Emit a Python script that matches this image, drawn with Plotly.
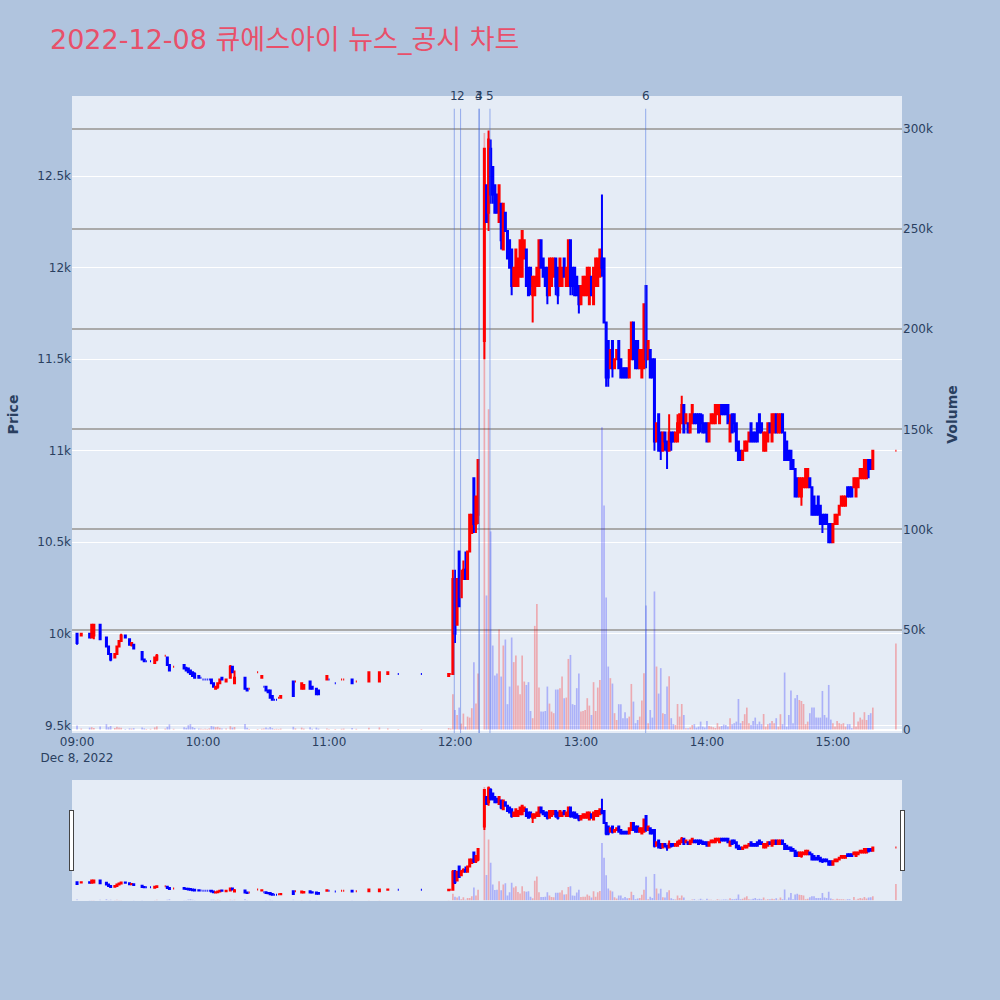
import pandas as pd
import plotly.graph_objects as go

# ---- minute offsets from 09:00 (only minutes with trades) ----
minute_am = [0, 2, 6, 7, 8, 11, 14, 15, 16, 18,
             19, 20, 21, 23, 25, 26, 27, 31, 32, 33,
             35, 37, 38, 42, 43, 44, 46, 51, 52, 53,
             54, 55, 56, 58, 59, 60, 61, 62, 63, 64,
             65, 66, 67, 68, 69, 71, 73, 74, 75, 80,
             81, 82, 86, 88, 89, 90, 91, 92, 93, 94,
             95, 96, 97, 103, 104, 107, 108, 111, 112, 114,
             115, 119, 120, 123, 126, 127, 131, 133, 139, 144,
             148, 153, 164, 177, 178]
minute_pm = list(range(179, 192)) + list(range(194, 380)) + [390]
minute = minute_am + minute_pm

open_ = [
    10000, 9990, 10000, 9980, 9990, 10050, 9980, 9930, 9890, 9870,
    9890, 9930, 9960, 9990, 9970, 9940, 9940, 9900, 9860, 9850,
    9850, 9840, 9860, 9880, 9870, 9830, 9820, 9830, 9810, 9810,
    9800, 9790, 9780, 9770, 9760, 9750, 9750, 9750, 9750, 9750,
    9730, 9700, 9710, 9730, 9760, 9740, 9760, 9820, 9730, 9760,
    9700, 9700, 9790, 9760, 9710, 9710, 9690, 9690, 9660, 9640,
    9640, 9650, 9650, 9740, 9740, 9700, 9700, 9740, 9710, 9700,
    9690, 9750, 9750, 9730, 9750, 9750, 9750, 9740, 9740, 9740,
    9780, 9780, 9780, 9770, 9780,
    9780, 10300, 10050, 10450, 10200, 10300, 10350, 10300, 10450, 10550, 10850, 10600, 10650,
    11600, 12450, 12300, 12650, 12550, 12450, 12400, 12250, 12350, 12100,
    12300, 12200, 12150, 12100, 11900, 11900, 11900, 11950, 11950, 12050,
    12100, 12000, 12000, 11850, 11850, 11900, 11900, 12150, 12050, 12000,
    12000, 11850, 11900, 11950, 12050, 12000, 11900, 11900, 12050, 11900,
    11900, 12150, 12000, 12000, 11950, 11900, 11800, 11850, 11850, 11850,
    11800, 11950, 11800, 11900, 11900, 11950, 12050, 12050, 11700, 11600,
    11450, 11600, 11450, 11500, 11600, 11500, 11450, 11450, 11450, 11400,
    11500, 11700, 11600, 11600, 11450, 11400, 11450, 11900, 11500, 11550,
    11500, 11500,
    11050, 11200, 11100, 11000, 11100, 11050, 11000, 11100, 11100, 11050,
    11050, 11100, 11150, 11250, 11150, 11150, 11100, 11150, 11200, 11200,
    11200, 11200, 11150, 11150, 11150, 11050, 11150, 11150, 11150, 11200,
    11150, 11250, 11250, 11250, 11250, 11050, 11200, 11200, 11150, 11050,
    11000, 10950, 11000, 11000, 11050, 11150, 11100, 11100, 11150, 11200,
    11150, 11000, 11000, 11050, 11150, 11050, 11100, 11200, 11100, 11100,
    11200, 11100, 11050, 11000, 11000, 10950, 10900, 10850, 10750, 10750,
    10800, 10800, 10800, 10850, 10800, 10750, 10700, 10750, 10700, 10650,
    10650, 10650, 10600, 10600, 10500, 10600, 10600, 10650, 10700, 10700,
    10700, 10800, 10800, 10800, 10800, 10750, 10800, 10850, 10850, 10850,
    10850, 10950, 10950, 10900, 11000]

high = [
    10000, 10000, 10000, 10050, 10050, 10050, 9980, 9930, 9890, 9890,
    9930, 9960, 10000, 9990, 9970, 9950, 9940, 9900, 9860, 9850,
    9850, 9870, 9890, 9880, 9870, 9830, 9820, 9830, 9820, 9810,
    9800, 9790, 9790, 9770, 9760, 9750, 9750, 9750, 9750, 9750,
    9730, 9710, 9730, 9750, 9760, 9750, 9830, 9820, 9800, 9760,
    9700, 9700, 9790, 9770, 9710, 9710, 9690, 9690, 9660, 9640,
    9640, 9650, 9660, 9740, 9740, 9730, 9720, 9740, 9710, 9700,
    9690, 9770, 9750, 9730, 9750, 9750, 9750, 9740, 9790, 9790,
    9790, 9780, 9780, 9780, 9780,
    10350, 10350, 10300, 10450, 10350, 10400, 10450, 10450, 10650, 10650, 10850, 10750, 10950,
    12650, 12450, 12750, 12700, 12550, 12450, 12400, 12450, 12350, 12350,
    12300, 12200, 12150, 12100, 12000, 12100, 12050, 12150, 12200, 12150,
    12100, 12000, 12000, 11950, 11950, 12000, 12150, 12150, 12050, 12000,
    12000, 12050, 12050, 12050, 12050, 12000, 12050, 12000, 12050, 12000,
    12150, 12150, 12000, 12000, 11950, 11900, 11900, 11950, 11950, 12000,
    12000, 11950, 12000, 12050, 12050, 12100, 12400, 12050, 11700, 11600,
    11550, 11600, 11500, 11550, 11600, 11500, 11450, 11450, 11450, 11550,
    11700, 11700, 11600, 11600, 11550, 11550, 11800, 11900, 11600, 11550,
    11500, 11500,
    11150, 11200, 11100, 11100, 11100, 11050, 11200, 11100, 11100, 11100,
    11200, 11200, 11300, 11250, 11200, 11150, 11200, 11250, 11200, 11200,
    11200, 11200, 11200, 11150, 11150, 11150, 11200, 11200, 11250, 11250,
    11250, 11250, 11250, 11250, 11250, 11200, 11200, 11200, 11150, 11050,
    11000, 11000, 11050, 11050, 11100, 11150, 11100, 11100, 11150, 11200,
    11150, 11100, 11100, 11150, 11150, 11200, 11200, 11200, 11200, 11200,
    11200, 11100, 11050, 11000, 11000, 10950, 10900, 10850, 10850, 10850,
    10850, 10900, 10900, 10850, 10800, 10750, 10700, 10750, 10700, 10650,
    10650, 10650, 10600, 10600, 10600, 10650, 10650, 10700, 10750, 10750,
    10750, 10800, 10800, 10800, 10850, 10850, 10850, 10900, 10900, 10950,
    10950, 10950, 10950, 11000, 11000]

low = [
    9940, 9990, 9980, 9980, 9970, 9970, 9930, 9890, 9850, 9870,
    9890, 9930, 9960, 9980, 9940, 9930, 9920, 9860, 9850, 9850,
    9850, 9840, 9850, 9880, 9830, 9800, 9820, 9810, 9800, 9790,
    9780, 9770, 9760, 9760, 9760, 9750, 9750, 9750, 9750, 9730,
    9710, 9700, 9700, 9730, 9750, 9740, 9760, 9790, 9730, 9700,
    9690, 9700, 9790, 9760, 9710, 9690, 9680, 9650, 9640, 9640,
    9640, 9650, 9650, 9660, 9740, 9700, 9700, 9700, 9700, 9670,
    9670, 9750, 9750, 9730, 9750, 9750, 9730, 9740, 9740, 9740,
    9780, 9780, 9780, 9770, 9780,
    9780, 9950, 10050, 10150, 10200, 10300, 10300, 10300, 10450, 10550, 10550, 10550, 10600,
    11500, 12250, 12200, 12350, 12350, 12300, 12300, 12250, 12100, 12100,
    12200, 12050, 12000, 11850, 11900, 11900, 11900, 11950, 11950, 12050,
    11900, 11850, 11850, 11700, 11850, 11900, 11900, 12000, 11950, 11900,
    11800, 11850, 11900, 11950, 11850, 11800, 11900, 11900, 11950, 11900,
    11900, 11850, 11850, 11850, 11850, 11750, 11800, 11850, 11850, 11850,
    11800, 11850, 11800, 11900, 11900, 11950, 11950, 11700, 11350, 11350,
    11450, 11400, 11450, 11500, 11450, 11400, 11400, 11400, 11400, 11400,
    11500, 11500, 11450, 11450, 11450, 11400, 11450, 11450, 11500, 11400,
    11400, 11000,
    11050, 11000, 10950, 11000, 11000, 10900, 11000, 11000, 11050, 11050,
    11050, 11100, 11150, 11100, 11150, 11100, 11100, 11150, 11150, 11150,
    11100, 11100, 11100, 11100, 11050, 11050, 11150, 11150, 11150, 11200,
    11150, 11200, 11200, 11200, 11150, 11050, 11100, 11100, 11000, 10950,
    10950, 10950, 11000, 11000, 11050, 11050, 11050, 11050, 11050, 11100,
    11100, 11000, 11000, 11050, 11100, 11050, 11100, 11100, 11100, 11100,
    11100, 10950, 10950, 10950, 10900, 10900, 10750, 10750, 10750, 10700,
    10800, 10800, 10800, 10800, 10650, 10650, 10650, 10650, 10600, 10550,
    10600, 10600, 10500, 10500, 10500, 10600, 10600, 10650, 10700, 10700,
    10700, 10750, 10750, 10750, 10800, 10750, 10800, 10850, 10850, 10850,
    10850, 10850, 10900, 10900, 11000]

close = [
    9950, 10000, 9980, 10050, 10050, 9970, 9930, 9890, 9860, 9890,
    9930, 9960, 9990, 9980, 9940, 9950, 9920, 9860, 9850, 9850,
    9850, 9870, 9880, 9880, 9830, 9800, 9820, 9810, 9800, 9790,
    9780, 9770, 9760, 9760, 9760, 9750, 9750, 9750, 9750, 9730,
    9710, 9710, 9730, 9750, 9750, 9750, 9820, 9790, 9760, 9700,
    9690, 9700, 9790, 9770, 9710, 9690, 9680, 9650, 9640, 9640,
    9640, 9650, 9660, 9660, 9740, 9730, 9720, 9700, 9700, 9670,
    9670, 9770, 9750, 9730, 9750, 9750, 9730, 9740, 9790, 9790,
    9790, 9780, 9780, 9780, 9780,
    10300, 10000, 10300, 10150, 10300, 10350, 10300, 10450, 10650, 10650, 10600, 10750, 10950,
    12650, 12250, 12700, 12400, 12400, 12300, 12300, 12450, 12150, 12350,
    12200, 12050, 12000, 11900, 12000, 12100, 12050, 12150, 12200, 12150,
    11900, 11850, 11900, 11950, 11950, 12000, 12150, 12000, 11950, 11900,
    11850, 12050, 12050, 12050, 11900, 11850, 12050, 12000, 11950, 12000,
    12150, 11900, 11900, 11850, 11850, 11800, 11900, 11950, 11950, 12000,
    12000, 11850, 12000, 12050, 12050, 12100, 12000, 11700, 11400, 11400,
    11550, 11450, 11500, 11550, 11450, 11400, 11400, 11400, 11400, 11550,
    11700, 11500, 11450, 11450, 11550, 11550, 11800, 11500, 11600, 11400,
    11400, 11050,
    11150, 11000, 11000, 11100, 11050, 11000, 11100, 11050, 11050, 11100,
    11150, 11200, 11250, 11100, 11200, 11100, 11200, 11250, 11150, 11150,
    11100, 11150, 11100, 11100, 11050, 11150, 11200, 11200, 11250, 11250,
    11250, 11200, 11200, 11200, 11150, 11150, 11100, 11150, 11000, 10950,
    10950, 11000, 11050, 11050, 11100, 11050, 11050, 11050, 11050, 11100,
    11100, 11100, 11100, 11150, 11100, 11200, 11200, 11100, 11200, 11200,
    11100, 10950, 10950, 10950, 10900, 10900, 10750, 10750, 10850, 10850,
    10850, 10900, 10900, 10800, 10650, 10650, 10650, 10650, 10600, 10600,
    10600, 10600, 10500, 10500, 10600, 10650, 10650, 10700, 10750, 10750,
    10750, 10750, 10750, 10750, 10850, 10850, 10850, 10900, 10900, 10950,
    10950, 10900, 10900, 11000, 11000]

volume = [
    2000, 500, 1000, 1200, 800, 1500, 2700, 1200, 1800, 800,
    1400, 1000, 900, 300, 600, 500, 700, 1000, 600, 300,
    400, 1100, 1600, 500, 1400, 2600, 400, 1200, 900, 2200,
    2700, 1300, 800, 500, 400, 300, 400, 300, 600, 1800,
    1500, 1200, 1400, 900, 600, 500, 1700, 1000, 1300, 2800,
    900, 300, 300, 400, 500, 1100, 600, 1300, 700, 300,
    400, 300, 500, 1400, 600, 1000, 500, 1200, 400, 1000,
    500, 500, 300, 300, 400, 500, 800, 400, 900, 1100,
    600, 300, 300, 800, 500,
    17600, 9800, 7300, 11000, 3000, 8000, 1500, 6500, 6000, 10700, 33700, 13000, 28000,
    298000, 67000, 160000, 99000, 42000, 27000, 28000, 50000, 26500, 42000,
    45000, 12700, 21500, 46000, 33700, 37000, 22000, 17700, 37000, 24000,
    22300, 23700, 9300, 5700, 51800, 62800, 21000, 9000, 9000, 9300,
    21500, 13000, 9000, 8200, 20000, 20000, 20700, 26500, 15700, 16000,
    35300, 37300, 12700, 12300, 20700, 28000, 9000, 9300, 9800, 15700,
    12000, 7300, 23700, 9300, 21000, 24800, 151000, 112000, 66000, 31500,
    25700, 23000, 8200, 4800, 12700, 12700, 5700, 8700, 5700, 6500,
    22800, 14000, 3200, 4800, 6500, 14500, 28200, 62000, 3200, 9800,
    6000, 69000,
    31500, 18000, 30700, 8200, 7800, 21500, 26700, 5700, 2700, 2300,
    12800, 6500, 12800, 7300, 700, 700, 1000, 2300, 2700, 1000,
    1500, 4000, 1500, 1000, 4300, 1800, 1500, 1200, 800, 3200,
    1500, 1800, 2500, 2300, 1500, 5700, 2700, 3200, 4000, 15300,
    3200, 4300, 7700, 11000, 3200, 2300, 4300, 6000, 2700, 4000,
    2700, 7800, 1500, 2700, 3200, 4300, 3200, 5700, 1500, 7700,
    2700, 28500, 1500, 7300, 19500, 3200, 15700, 17300, 14800, 14300,
    12800, 2700, 4000, 8200, 11000, 11000, 6000, 6000, 6000, 19300,
    7300, 6000, 22300, 5000, 3200, 1500, 4300, 3200, 2700, 3200,
    1500, 2700, 2700, 700, 8700, 1500, 4000, 6000, 5000, 8700,
    4800, 7300, 8200, 11000, 43000]

# ---- news / disclosure markers ----
news_times = ['2022-12-08 11:59:40', '2022-12-08 12:02:40', '2022-12-08 12:11:25',
              '2022-12-08 12:11:35', '2022-12-08 12:16:40', '2022-12-08 13:30:50']
news_labels = ['1', '2', '3', '4', '5', '6']

n = len(minute)
assert all(len(a) == n for a in (open_, high, low, close, volume)), [len(a) for a in (minute, open_, high, low, close, volume)]

t = pd.Timestamp('2022-12-08 09:00') + pd.to_timedelta(minute, unit='min')
vol_colors = ['rgba(255,0,0,0.28)' if c >= o else 'rgba(0,0,255,0.25)' for o, c in zip(open_, close)]

fig = go.Figure()
fig.add_trace(go.Candlestick(
    x=t, open=open_, high=high, low=low, close=close,
    increasing=dict(line=dict(color='#FF0000'), fillcolor='#FF0000'),
    decreasing=dict(line=dict(color='#0000FF'), fillcolor='#0000FF'),
    name='Price', yaxis='y'))
fig.add_trace(go.Bar(
    x=t, y=volume, marker=dict(color=vol_colors, line=dict(width=0)),
    name='Volume', yaxis='y2'))

for tm, lab in zip(news_times, news_labels):
    fig.add_shape(type='line', xref='x', yref='paper', x0=tm, x1=tm, y0=0, y1=0.98,
                  line=dict(color='rgba(65,105,225,0.5)', width=1))
    fig.add_annotation(x=tm, y=1, xref='x', yref='paper', text=lab, showarrow=False,
                       yanchor='middle', xanchor='center', font=dict(size=12, color='#2a3f5f'))

x_range = ['2022-12-08 08:57:36', '2022-12-08 15:32:54']
fig.update_layout(
    width=1000, height=1000,
    font=dict(family='DejaVu Sans, Noto Sans CJK KR', size=12),
    paper_bgcolor='#B0C4DE',
    plot_bgcolor='#E5ECF6',
    showlegend=False,
    margin=dict(l=72, r=98, t=96, b=100),
    title=dict(text='2022-12-08 큐에스아이 뉴스_공시 차트', x=0.05, xanchor='left',
               y=0.96, yanchor='middle',
               font=dict(size=27, color='#E8506A', family='DejaVu Sans, Noto Sans CJK KR')),
    xaxis=dict(type='date', range=x_range,
               rangeslider=dict(visible=True, bgcolor='#E5ECF6', range=x_range)),
    yaxis=dict(title=dict(text='<b>Price</b>', font=dict(size=14)), range=[9458, 12938],
               gridcolor='white'),
    yaxis2=dict(title=dict(text='<b>Volume</b>', font=dict(size=14)), overlaying='y', side='right',
                range=[-1700, 316500], showgrid=True, gridcolor='#AAAAAA', gridwidth=2,
                zeroline=True, zerolinecolor='white'),
)

fig.write_html('out.html', config={'displayModeBar': False},
               post_script="document.body.style.margin='0';")
